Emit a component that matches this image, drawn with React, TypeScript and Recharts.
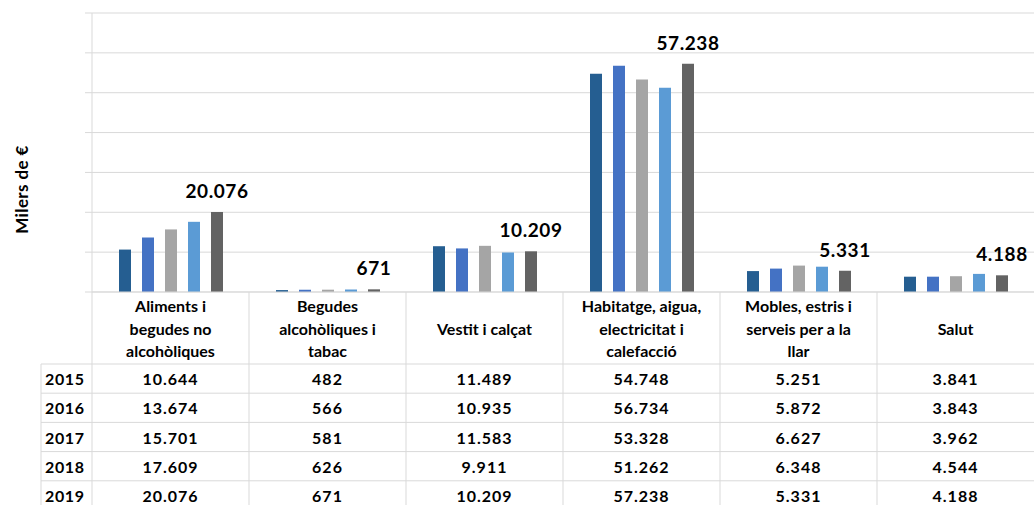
import { Bar, BarChart, CartesianGrid, Label, LabelList, XAxis, YAxis } from 'recharts';

const YEARS = ['2015', '2016', '2017', '2018', '2019'];
const CATEGORIES = [
  'Aliments i begudes no alcohòliques',
  'Begudes alcohòliques i tabac',
  'Vestit i calçat',
  'Habitatge, aigua, electricitat i calefacció',
  'Mobles, estris i serveis per a la llar',
  'Salut'
];
const HEADER_LINES = [
  ['Aliments i', 'begudes no', 'alcohòliques'],
  ['Begudes', 'alcohòliques i', 'tabac'],
  ['Vestit i calçat'],
  ['Habitatge, aigua,', 'electricitat i', 'calefacció'],
  ['Mobles, estris  i', 'serveis per a la', 'llar'],
  ['Salut']
];
const V2015 = [10644, 482, 11489, 54748, 5251, 3841];
const V2016 = [13674, 566, 10935, 56734, 5872, 3843];
const V2017 = [15701, 581, 11583, 53328, 6627, 3962];
const V2018 = [17609, 626, 9911, 51262, 6348, 4544];
const V2019 = [20076, 671, 10209, 57238, 5331, 4188];
const SERIES = [V2015, V2016, V2017, V2018, V2019];
const Y_TICKS = [0, 10000, 20000, 30000, 40000, 50000, 60000, 70000];
const COLORS = ['#255E91', '#4472C4', '#A5A5A5', '#5B9BD5', '#636363'];

const W = 1034;
const H = 505;
const PLOT_LEFT = 92;
const PLOT_TOP = 13;
const AXIS_H = 213;
const HEADER_H = 72;
const ROW_H = 29.2;
const YEAR_LEFT = 41;
const COL_W = (W - PLOT_LEFT) / CATEGORIES.length;
const LINE = '#D9D9D9';
const FONT = 'Lato, "Open Sans", sans-serif';

const DATA = CATEGORIES.map((name, i) => {
  const row: Record<string, string | number> = { name };
  YEARS.forEach((yr, j) => {
    row['y' + yr] = SERIES[j][i];
  });
  return row;
});

const fmt = (v: number) => String(v).replace(/\B(?=(\d{3})+(?!\d))/g, '.');

function TableTick(props: any) {
  const { x, y, payload } = props;
  const i = payload.index;
  const left = x - COL_W / 2;
  const lines = HEADER_LINES[i];
  const lh = 22.5;
  const hy = y + HEADER_H / 2 - ((lines.length - 1) * lh) / 2;
  return (
    <g>
      {i === 0 && (
        <g>
          <line x1={YEAR_LEFT} x2={YEAR_LEFT} y1={y + HEADER_H} y2={H} stroke={LINE} />
          {YEARS.map((yr, j) => (
            <g key={yr}>
              <line x1={YEAR_LEFT} x2={W} y1={y + HEADER_H + j * ROW_H} y2={y + HEADER_H + j * ROW_H} stroke={LINE} />
              <text x={YEAR_LEFT + 4} y={y + HEADER_H + (j + 0.5) * ROW_H} dominantBaseline="central" fontSize={16} fontWeight="bold" fill="#000" letterSpacing={0.6}>
                {yr}
              </text>
            </g>
          ))}
        </g>
      )}
      <line x1={left} x2={left} y1={y} y2={H} stroke={LINE} />
      {lines.map((t, k) => (
        <text key={k} x={x} y={hy + k * lh} textAnchor="middle" dominantBaseline="central" fontSize={16} fontWeight="bold" fill="#000">
          {t}
        </text>
      ))}
      {SERIES.map((s, j) => (
        <text key={j} x={x} y={y + HEADER_H + (j + 0.5) * ROW_H} textAnchor="middle" dominantBaseline="central" fontSize={16} fontWeight="bold" fill="#000" letterSpacing={1}>
          {fmt(s[i])}
        </text>
      ))}
    </g>
  );
}

function YTitle(props: any) {
  const vb = props.viewBox || { x: 0, y: PLOT_TOP, width: PLOT_LEFT, height: H - AXIS_H - PLOT_TOP };
  const cx = vb.x + 21;
  const cy = vb.y + (vb.height + HEADER_H) / 2 + 1;
  return (
    <text x={cx} y={cy} transform={`rotate(-90, ${cx}, ${cy})`} textAnchor="middle" dominantBaseline="central" fontSize={17} fontWeight="bold" fill="#000" letterSpacing={0.4}>
      Milers de €
    </text>
  );
}

export default function App() {
  return (
    <div style={{ position: 'absolute', left: 0, top: 0, width: W, height: H, background: '#fff', fontFamily: FONT }}>
      <BarChart
        width={W}
        height={H}
        data={DATA}
        margin={{ top: PLOT_TOP, right: 0, bottom: 0, left: 0 }}
        barSize={12}
        barGap={11}
        style={{ fontFamily: FONT }}
      >
        <CartesianGrid vertical={false} stroke={LINE} strokeDasharray="" />
        <YAxis
          domain={[0, 70000]}
          ticks={Y_TICKS}
          width={PLOT_LEFT}
          stroke={LINE}
          tickSize={7}
          tick={() => <g />}
        >
          <Label content={YTitle} />
        </YAxis>
        <XAxis
          dataKey="name"
          height={AXIS_H}
          interval={0}
          stroke={LINE}
          tickLine={false}
          tickSize={0}
          tickMargin={0}
          tick={TableTick}
        />
        {YEARS.map((yr, j) => (
          <Bar key={yr} dataKey={'y' + yr} fill={COLORS[j]} isAnimationActive={false}>
            {j === YEARS.length - 1 && (
              <LabelList
                dataKey={'y' + yr}
                position="top"
                offset={14}
                formatter={(v: any) => fmt(Number(v))}
                fill="#000"
                fontSize={19}
                fontWeight="bold"
                letterSpacing={0.6}
              />
            )}
          </Bar>
        ))}
      </BarChart>
    </div>
  );
}
